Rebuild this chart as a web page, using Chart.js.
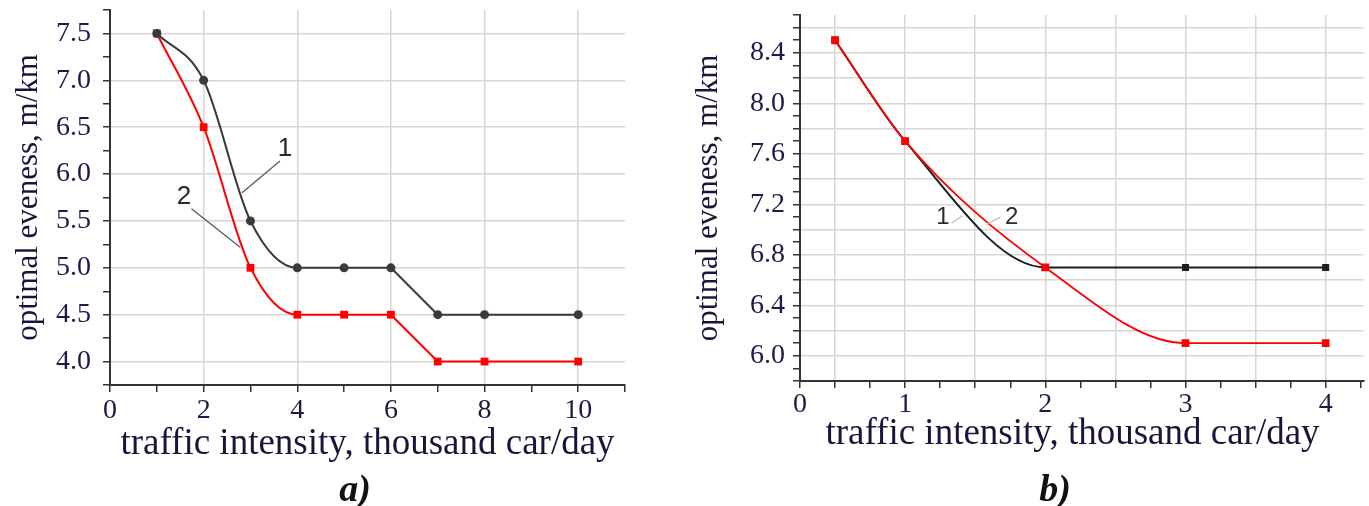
<!DOCTYPE html>
<html>
<head>
<meta charset="utf-8">
<script src="https://cdn.jsdelivr.net/npm/chart.js@4.4.0/dist/chart.umd.min.js"></script>
<style>
  html, body { margin: 0; padding: 0; background: #fff; }
  body { width: 1369px; height: 506px; position: relative; overflow: hidden; }
  .panel { position: absolute; top: 0; height: 506px; }
  #panelA { left: 0; width: 640px; }
  #panelB { left: 680px; width: 689px; }
  .caption {
    position: absolute; top: 466px; width: 80px; text-align: center;
    font: italic bold 38px "Liberation Serif", serif; color: #111; line-height: 44px;
  }
</style>
</head>
<body>
<div class="panel" id="panelA"><canvas id="chartA" width="640" height="506"></canvas></div>
<div class="panel" id="panelB"><canvas id="chartB" width="689" height="506"></canvas></div>
<div class="caption" style="left:315px">a)</div>
<div class="caption" style="left:1015px">b)</div>

<script>
// ---------------------------------------------------------------
// DATA
// ---------------------------------------------------------------

// panel a)
const xA = [1, 2, 3, 4, 5, 6, 7, 8, 10];
const curve1A = [7.5, 7.0, 5.5, 5.0, 5.0, 5.0, 4.5, 4.5, 4.5];
const curve2A = [7.5, 6.5, 5.0, 4.5, 4.5, 4.5, 4.0, 4.0, 4.0];
const smoothUntilA = 5;            // smooth part runs up to x = 6, straight after
const xRangeA = [0, 11];
const yRangeA = [3.75, 7.75];
const xLabelsA = [0, 2, 4, 6, 8, 10];
const yLabelsA = [4.0, 4.5, 5.0, 5.5, 6.0, 6.5, 7.0, 7.5];

// panel b)
const xB = [0.5, 1, 2, 3, 4];
const curve1B = [8.5, 7.7, 6.7, 6.7, 6.7];
const curve2B = [8.5, 7.7, 6.7, 6.1, 6.1];
const xRangeB = [0.25, 4.27];
const yRangeB = [5.8, 8.7];
const xLabelPosB = [0.25, 1, 2, 3, 4];
const xLabelTextB = ['0', '1', '2', '3', '4'];
const yLabelsB = [6.0, 6.4, 6.8, 7.2, 7.6, 8.0, 8.4];

const xTitle = 'traffic intensity, thousand car/day';
const yTitle = 'optimal eveness, m/km';

// curve numbers with their leader lines (data units)
const notesA = [
  { text: '1', at: [3.74, 6.27], from: [3.63, 6.14], to: [2.82, 5.80] },
  { text: '2', at: [1.58, 5.76], from: [1.74, 5.63], to: [2.78, 5.22] }
];
const notesB = [
  { text: '1', at: [1.27, 7.10], from: [1.33, 7.05], to: [1.41, 7.11] },
  { text: '2', at: [1.76, 7.10], from: [1.58, 7.04], to: [1.68, 7.10] }
];

// ---------------------------------------------------------------
// HELPERS
// ---------------------------------------------------------------

const BLACK = '#3a3a3a';
const RED = '#ff0000';
const GRID = '#d6d6d6';
const AXIS = '#333333';
const TEXT = '#1b1b4a';
const SERIF = '"Liberation Serif", "Times New Roman", serif';

function steps(from, to, step) {
  const out = [];
  for (let i = 0; from + i * step <= to + 1e-9; i++) out.push(+(from + i * step).toFixed(4));
  return out;
}
const near = (list, v) => list.some((u) => Math.abs(u - v) < 1e-6);
const pts = (xs, ys) => xs.map((x, i) => ({ x, y: ys[i] }));

const notesPlugin = {
  id: 'notes',
  afterDatasetsDraw(chart, args, opts) {
    const { ctx, scales: { x, y } } = chart;
    ctx.save();
    ctx.strokeStyle = opts.lineColor;
    ctx.lineWidth = 1.2;
    ctx.fillStyle = '#2a2a2a';
    ctx.font = opts.font;
    ctx.textAlign = 'center';
    ctx.textBaseline = 'middle';
    opts.items.forEach((n) => {
      ctx.beginPath();
      ctx.moveTo(x.getPixelForValue(n.from[0]), y.getPixelForValue(n.from[1]));
      ctx.lineTo(x.getPixelForValue(n.to[0]), y.getPixelForValue(n.to[1]));
      ctx.stroke();
      ctx.fillText(n.text, x.getPixelForValue(n.at[0]), y.getPixelForValue(n.at[1]));
    });
    ctx.restore();
  }
};

function makeAxis(cfg) {
  return {
    type: 'linear',
    min: cfg.range[0],
    max: cfg.range[1],
    afterBuildTicks: (scale) => { scale.ticks = cfg.ticks.map((value) => ({ value })); },
    afterFit: (scale) => {
      // keep the plot box exactly where the layout padding puts it
      scale.paddingTop = 0;
      scale.paddingBottom = 0;
      scale.paddingLeft = 0;
      scale.paddingRight = 0;
      if (cfg.width) scale.width = cfg.width;
      if (cfg.height) scale.height = cfg.height;
    },
    border: { color: AXIS, width: 2 },
    grid: {
      color: (c) => (c.tick && near(cfg.grid, c.tick.value) ? GRID : 'rgba(0,0,0,0)'),
      lineWidth: 1.5,
      tickColor: AXIS,
      tickWidth: 1.5,
      tickLength: 7,
      drawTicks: true
    },
    ticks: {
      autoSkip: false,
      maxRotation: 0,
      padding: cfg.tickPad,
      color: TEXT,
      font: { family: SERIF, size: 28 },
      callback: cfg.label
    },
    title: {
      display: true,
      text: cfg.title,
      color: '#16163c',
      font: { family: SERIF, size: cfg.titleSize, lineHeight: 1.2 },
      padding: cfg.titlePad
    }
  };
}

// ---------------------------------------------------------------
// PANEL a)   (first dataset is drawn on top)
// ---------------------------------------------------------------

new Chart(document.getElementById('chartA'), {
  type: 'scatter',
  data: {
    datasets: [
      { data: pts(xA, curve1A), showLine: false, pointStyle: 'circle', pointRadius: 4.5,
        backgroundColor: BLACK, borderColor: BLACK, borderWidth: 0 },
      { data: pts(xA.slice(0, smoothUntilA + 1), curve1A.slice(0, smoothUntilA + 1)), showLine: true,
        cubicInterpolationMode: 'monotone', borderColor: BLACK, borderWidth: 2, pointRadius: 0 },
      { data: pts(xA.slice(smoothUntilA), curve1A.slice(smoothUntilA)), showLine: true,
        tension: 0, borderColor: BLACK, borderWidth: 2, pointRadius: 0 },
      { data: pts(xA, curve2A), showLine: false, pointStyle: 'rect', pointRadius: 5.5,
        backgroundColor: RED, borderColor: RED, borderWidth: 0 },
      { data: pts(xA.slice(0, smoothUntilA + 1), curve2A.slice(0, smoothUntilA + 1)), showLine: true,
        cubicInterpolationMode: 'monotone', borderColor: RED, borderWidth: 2, pointRadius: 0 },
      { data: pts(xA.slice(smoothUntilA), curve2A.slice(smoothUntilA)), showLine: true,
        tension: 0, borderColor: RED, borderWidth: 2, pointRadius: 0 }
    ]
  },
  options: {
    responsive: false,
    animation: false,
    devicePixelRatio: 1,
    layout: { padding: { left: 0, top: 10, right: 15, bottom: 0 } },
    plugins: {
      legend: { display: false },
      tooltip: { enabled: false },
      notes: { items: notesA, lineColor: '#555', font: '26px "Liberation Sans", Arial, sans-serif' }
    },
    scales: {
      x: makeAxis({
        range: xRangeA, ticks: steps(0, 11, 1), grid: steps(2, 10, 2), height: 121, tickPad: 2,
        label: (v) => (near(xLabelsA, v) ? String(v) : ''),
        title: xTitle, titleSize: 37, titlePad: { top: 0, bottom: 40 }
      }),
      y: makeAxis({
        range: yRangeA, ticks: steps(3.75, 7.75, 0.25), grid: yLabelsA, width: 110, tickPad: 12,
        label: (v) => (near(yLabelsA, v) ? v.toFixed(1) : ''),
        title: yTitle, titleSize: 31, titlePad: { top: 10, bottom: 0 }
      })
    }
  },
  plugins: [notesPlugin]
});

// ---------------------------------------------------------------
// PANEL b)   (red curve on top)
// ---------------------------------------------------------------

new Chart(document.getElementById('chartB'), {
  type: 'scatter',
  data: {
    datasets: [
      { data: pts(xB, curve2B), showLine: true, cubicInterpolationMode: 'monotone',
        borderColor: RED, borderWidth: 1.8, pointStyle: 'rect', pointRadius: 5.5,
        backgroundColor: RED, pointBorderWidth: 0 },
      { data: pts(xB, curve1B), showLine: true, cubicInterpolationMode: 'monotone',
        borderColor: '#1e1e1e', borderWidth: 2, pointStyle: 'rect', pointRadius: 5,
        backgroundColor: '#1e1e1e', pointBorderWidth: 0 }
    ]
  },
  options: {
    responsive: false,
    animation: false,
    devicePixelRatio: 1,
    layout: { padding: { left: 0, top: 15, right: 2, bottom: 0 } },
    plugins: {
      legend: { display: false },
      tooltip: { enabled: false },
      notes: { items: notesB, lineColor: '#bbbbbb', font: '24px "Liberation Sans", Arial, sans-serif' }
    },
    scales: {
      x: makeAxis({
        range: xRangeB, ticks: steps(0.25, 4.25, 0.25), grid: steps(0.5, 4, 0.5), height: 125, tickPad: 0,
        label: (v) => { const i = xLabelPosB.findIndex((p) => Math.abs(p - v) < 1e-6); return i < 0 ? '' : xLabelTextB[i]; },
        title: xTitle + '\u00a0\u00a0', titleSize: 37, titlePad: { top: 0, bottom: 50 }
      }),
      y: makeAxis({
        range: yRangeB, ticks: steps(5.8, 8.7, 0.1), grid: steps(6.0, 8.6, 0.2), width: 120, tickPad: 8,
        label: (v) => (near(yLabelsB, v) ? v.toFixed(1) : ''),
        title: yTitle, titleSize: 31, titlePad: { top: 10, bottom: 0 }
      })
    }
  },
  plugins: [notesPlugin]
});
</script>
</body>
</html>
